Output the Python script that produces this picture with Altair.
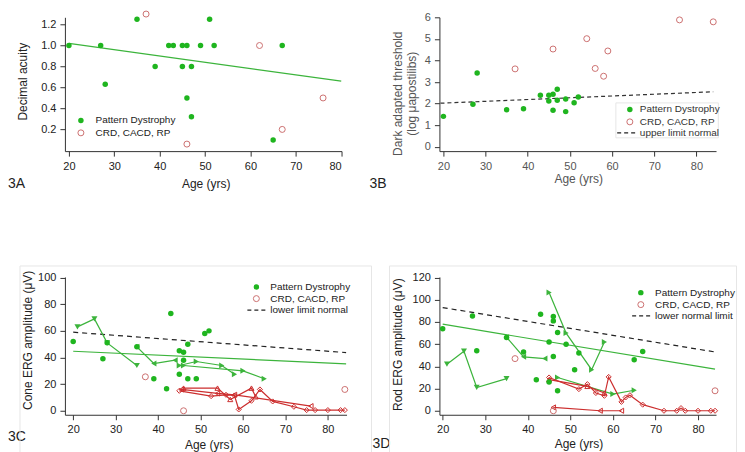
import altair as alt
import pandas as pd

FONT = "Liberation Sans"
GREEN = "#1fb51f"
GREEN_LINE = "#3cb43c"
ROSE = "#cc7070"
RED_LINE = "#cc2e2e"
DARK = "#222222"

# ---------------- Panel A : decimal acuity ----------------
a_pd_age = [20, 27, 28, 35, 39, 42, 43, 45, 46, 45, 47, 46, 47, 49, 51, 52, 67, 65]
a_pd_val = [1.0, 1.0, 0.63, 1.25, 0.8, 1.0, 1.0, 1.0, 1.0, 0.8, 0.8, 0.5, 0.32, 1.0, 1.25, 1.0, 1.0, 0.1]
a_crd_age = [37, 62, 76, 67, 46]
a_crd_val = [1.3, 1.0, 0.5, 0.2, 0.06]
a_fit_age = [20, 80]
a_fit_val = [1.02, 0.66]

# ---------------- Panel B : dark adapted threshold ----------------
b_pd_age = [20, 27, 28, 35, 39, 43, 45, 45, 46, 46, 47, 47, 49, 49, 51, 52]
b_pd_val = [1.41, 1.97, 3.42, 1.72, 1.76, 2.39, 2.12, 2.39, 2.43, 1.69, 2.67, 2.16, 2.21, 1.63, 2.04, 2.31]
b_crd_age = [37, 46, 54, 56, 58, 59, 76, 84]
b_crd_val = [3.61, 4.53, 5.01, 3.63, 3.27, 4.44, 5.88, 5.79]
b_norm_age = [19.3, 84]
b_norm_val = [2.02, 2.55]

# ---------------- Panel C : cone ERG ----------------
c_pd_age = [20, 27, 28, 35, 39, 42, 43, 45, 46, 46, 47, 45, 47, 49, 51, 52]
c_pd_val = [52, 39, 51, 48, 24, 16.5, 73, 45, 44, 38, 50, 27.5, 24, 24, 58, 60]
c_crd_age = [37, 46, 84]
c_crd_val = [25.5, 0, 16]
c_fit_age = [20, 84.3]
c_fit_val = [44.7, 35.2]
c_norm_age = [20, 84.3]
c_norm_val = [59, 43.7]
c_green_series = [
    ([21, 25, 28, 35], [63, 69, 51, 34]),
    ([35, 39, 44], [48, 35.5, 38]),
    ([45, 49, 55, 58], [34, 37, 34, 27.5]),
    ([46, 60, 65], [34, 30, 24]),
]
c_red_series = [
    ([45, 52.5, 56, 58, 59, 62, 64, 67, 72, 75, 77, 80, 83, 84],
     [15, 11, 12, 11.5, 1, 7.5, 16, 7, 3, 0.5, 0.5, 0.5, 0.5, 0.5]),
    ([46, 54, 57, 62, 63], [17, 17, 8.5, 17, 10.5]),
    ([45.5, 54, 58, 76], [16, 13, 12, 3.5]),
]

# ---------------- Panel D : rod ERG ----------------
d_pd_age = [20, 27, 28, 35, 39, 43, 42, 45, 45, 46, 46, 46, 47, 47, 49, 52, 51, 65, 67]
d_pd_val = [74, 85.5, 54, 66, 53, 87, 28, 62, 26, 85, 81, 49, 70.5, 18, 60, 52, 37, 46, 53.4]
d_crd_age = [37, 46, 84]
d_crd_val = [47, 0, 18]
d_fit_age = [20, 84]
d_fit_val = [78, 37.5]
d_norm_age = [20, 84]
d_norm_val = [93, 53]
d_green_series = [
    ([21, 25, 28, 35], [42, 53.7, 21, 29]),
    ([35, 39, 44], [66.3, 48.6, 47]),
    ([45, 49, 55, 58], [106.5, 70, 37, 62]),
    ([47, 60, 65], [30, 15, 18.5]),
]
d_red_series = [
    ([45, 52, 54, 56, 58, 59, 62, 63, 64, 67, 72, 75, 76, 77, 80, 83, 84],
     [30, 19.5, 24, 16, 13.5, 30.5, 8, 12, 14, 5.5, 0, 0, 2.4, 0, 0, 0, 0]),
    ([45, 54, 58], [28, 22, 16]),
    ([46, 57, 62], [3, 0, 0]),
]

AGE_TICKS = [20, 30, 40, 50, 60, 70, 80]


def pts(ages, vals):
    return pd.DataFrame({"age": ages, "val": vals})


def series_df(series, prefix):
    rows = []
    for i, (ages, vals) in enumerate(series):
        for a, v in zip(ages, vals):
            rows.append({"sid": "%s%d" % (prefix, i), "age": a, "val": v})
    return pd.DataFrame(rows)


ONE = alt.Data(values=[{}])


def enc(xdom, ydom, yvals, yfmt, ytitle, ytx, yty, xtx, xty, color=DARK):
    common = dict(labelColor=color, titleColor=color, titleFontWeight="normal",
                  labelFont=FONT, titleFont=FONT, labelFontSize=11, titleFontSize=12,
                  tickSize=5, labelPadding=4, grid=False, domainColor="#333333",
                  tickColor="#333333")
    x = alt.X("age:Q", scale=alt.Scale(domain=xdom, nice=False, zero=False),
              axis=alt.Axis(values=AGE_TICKS, title="Age (yrs)", titleX=xtx, titleY=xty,
                            titleBaseline="middle", titleAlign="center", **common))
    y = alt.Y("val:Q", scale=alt.Scale(domain=ydom, nice=False, zero=False),
              axis=alt.Axis(values=yvals, format=yfmt, title=ytitle, titleX=ytx, titleY=yty,
                            titleAngle=-90, titleBaseline="middle", titleAlign="center",
                            **common))
    return x, y


def scatter(df, x, y, filled):
    if filled:
        return alt.Chart(df).mark_point(filled=True, shape="circle", size=30, color=GREEN, opacity=1).encode(x=x, y=y)
    return alt.Chart(df).mark_point(filled=False, shape="circle", size=36, color=ROSE, strokeWidth=1, opacity=1).encode(x=x, y=y)


def line(df, x, y, color, dash=None, width=1.2):
    kw = dict(color=color, strokeWidth=width)
    if dash:
        kw["strokeDash"] = dash
    return alt.Chart(df).mark_line(**kw).encode(x=x, y=y)


def series_layers(gseries, rseries, x, y, gshapes, rshapes):
    ids = ["g%d" % i for i in range(len(gseries))] + ["r%d" % i for i in range(len(rseries))]
    shape = alt.Shape("sid:N", scale=alt.Scale(domain=ids, range=gshapes + rshapes), legend=None)
    out = []
    for series, prefix, color, filled, size in ((gseries, "g", GREEN_LINE, True, 36),
                                                (rseries, "r", RED_LINE, False, 26)):
        df = series_df(series, prefix)
        out.append(alt.Chart(df).mark_line(color=color, strokeWidth=1.2).encode(
            x=x, y=y, detail="sid:N"))
        out.append(alt.Chart(df).mark_point(filled=filled, color=color, size=size, opacity=1,
                                            strokeWidth=1).encode(x=x, y=y, shape=shape))
    return out


def txt(s, xp, yp, size=10, color=DARK, align="left"):
    return alt.Chart(ONE).mark_text(align=align, baseline="middle", fontSize=size, color=color, font=FONT).encode(
        x=alt.value(xp), y=alt.value(yp), text=alt.value(s))


def sym(xp, yp, filled):
    if filled:
        return alt.Chart(ONE).mark_point(filled=True, shape="circle", size=30, color=GREEN, opacity=1).encode(
            x=alt.value(xp), y=alt.value(yp))
    return alt.Chart(ONE).mark_point(filled=False, shape="circle", size=36, color=ROSE, strokeWidth=1, opacity=1).encode(
        x=alt.value(xp), y=alt.value(yp))


def dash(x1, x2, yp):
    return alt.Chart(ONE).mark_rule(color=DARK, strokeDash=[4, 3], strokeWidth=1.2).encode(
        x=alt.value(x1), x2=alt.value(x2), y=alt.value(yp))


def frame(x1, x2, y1, y2):
    return alt.Chart(ONE).mark_rect(fill=None, stroke="#e6e6e6", strokeWidth=1).encode(
        x=alt.value(x1), x2=alt.value(x2), y=alt.value(y1), y2=alt.value(y2))


TOP = 16.0  # page y of the first row's plot top

# ---------- Panel A ----------
xa, ya = enc([19.12, 80.07], [-0.007, 1.269], [0.2, 0.4, 0.6, 0.8, 1.0, 1.2], ".1f",
             "Decimal acuity", -42, 80 - TOP, 141, 32)
panel_a = alt.layer(
    line(pts(a_fit_age, a_fit_val), xa, ya, GREEN_LINE),
    scatter(pts(a_pd_age, a_pd_val), xa, ya, True),
    scatter(pts(a_crd_age, a_crd_val), xa, ya, False),
    sym(16, 119.3 - TOP, True), txt("Pattern Dystrophy", 30.7, 119.3 - TOP),
    sym(16, 131.7 - TOP, False), txt("CRD, CACD, RP", 30.7, 131.7 - TOP),
    txt("3A", -57, 182.5 - TOP, size=14),
).properties(width=277, height=134)

# ---------- Panel B ----------
GRAY = "#555555"
xb, yb = enc([19.05, 84.66], [-0.2, 6.0], [0, 1, 2, 3, 4, 5, 6], "d",
             ["Dark adapted threshold", "(log \u03bcapostilibs)"], -42, 92 - TOP, 139, 27.7, color=GRAY)
panel_b = alt.layer(
    line(pts(b_norm_age, b_norm_val), xb, yb, "#333333", dash=[4, 3]),
    scatter(pts(b_pd_age, b_pd_val), xb, yb, True),
    scatter(pts(b_crd_age, b_crd_val), xb, yb, False),
    frame(176.7, 279.3, 101.7 - TOP, 136.7 - TOP),
    sym(190.7, 108.3 - TOP, True), txt("Pattern Dystrophy", 200.7, 108.3 - TOP, color="#333"),
    sym(190.7, 120.7 - TOP, False), txt("CRD, CACD, RP", 200.7, 120.7 - TOP, color="#333"),
    dash(178, 197, 131.7 - TOP), txt("upper limit normal", 200.7, 131.7 - TOP, color="#333"),
    txt("3B", -70, 183 - TOP, size=14),
).properties(width=277, height=134)

# ---------- Panel C ----------
xc, yc = enc([18.05, 84.4], [-3, 100.5], [0, 20, 40, 60, 80, 100], "d",
             "Cone ERG amplitude (\u03bcV)", -37, 63, 144, 29.3)
panel_c = alt.layer(
    line(pts(c_norm_age, c_norm_val), xc, yc, DARK, dash=[5, 4]),
    line(pts(c_fit_age, c_fit_val), xc, yc, GREEN_LINE),
    *series_layers(c_green_series, c_red_series, xc, yc,
                   ["triangle-down", "triangle-left", "triangle-right", "triangle-right"],
                   ["diamond", "triangle-up", "triangle-left"]),
    scatter(pts(c_pd_age, c_pd_val), xc, yc, True),
    scatter(pts(c_crd_age, c_crd_val), xc, yc, False),
    sym(191.7, 10, True), txt("Pattern Dystrophy", 205.7, 10),
    sym(191.7, 21.7, False), txt("CRD, CACD, RP", 205.7, 21.7),
    dash(182.7, 201.7, 33.3), txt("lower limit normal", 205.7, 33.3),
    txt("3C", -57, 160.7, size=14),
    frame(-45, 307, -11, 190),
).properties(width=282, height=138)

# ---------- Panel D ----------
xd, yd = enc([19.23, 84.23], [-3.6, 120.6], [0, 20, 40, 60, 80, 100, 120], "d",
             "Rod ERG amplitude (\u03bcV)", -42, 67.3, 139.3, 29)
panel_d = alt.layer(
    line(pts(d_norm_age, d_norm_val), xd, yd, DARK, dash=[5, 4]),
    line(pts(d_fit_age, d_fit_val), xd, yd, GREEN_LINE),
    *series_layers(d_green_series, d_red_series, xd, yd,
                   ["triangle-down", "triangle-left", "triangle-right", "triangle-right"],
                   ["diamond", "triangle-up", "triangle-down"]),
    scatter(pts(d_pd_age, d_pd_val), xd, yd, True),
    scatter(pts(d_crd_age, d_crd_val), xd, yd, False),
    sym(201.7, 15.7, True), txt("Pattern Dystrophy", 216, 15.7),
    sym(201.7, 27.7, False), txt("CRD, CACD, RP", 216, 27.7),
    dash(193, 213, 39), txt("lower normal limit", 216, 39),
    txt("3D", -67, 167.3, size=14),
    frame(-50, 297.5, -11, 190),
).properties(width=277, height=138)

chart = alt.concat(
    panel_a, panel_b, panel_c, panel_d, columns=2,
    spacing={"row": 276 - TOP - 134, "column": 93}, bounds="flush",
).properties(padding=0, background="white").configure_view(
    stroke=None
).configure_axis(
    titleFontWeight="normal", titleFont=FONT, labelFont=FONT, grid=False,
    labelFontSize=11, titleFontSize=12,
)

chart.save("out.html", embed_options={"renderer": "svg", "actions": False})
